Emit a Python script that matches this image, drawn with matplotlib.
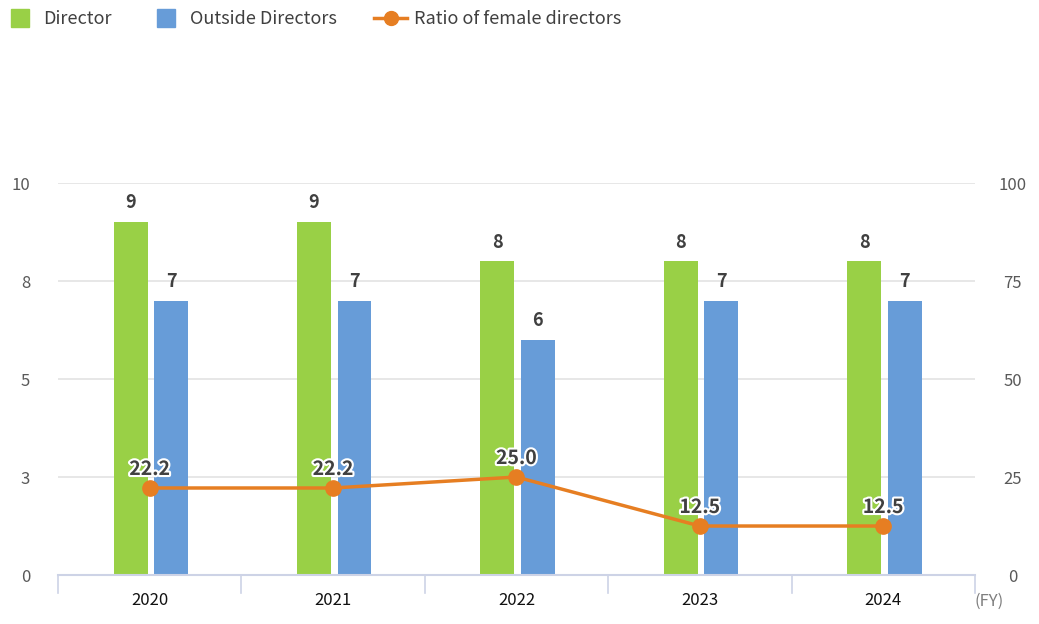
import matplotlib
matplotlib.use("Agg")
import matplotlib.pyplot as plt
import matplotlib.patheffects as pe
from matplotlib.lines import Line2D
import numpy as np

plt.rcParams['font.family'] = ['Noto Sans CJK JP', 'DejaVu Sans']

years = ["2020", "2021", "2022", "2023", "2024"]
directors = [9, 9, 8, 8, 8]
outside_directors = [7, 7, 6, 7, 7]
female_ratio = [22.2, 22.2, 25.0, 12.5, 12.5]

left_ticks = [0, 2.5, 5, 7.5, 10]
left_labels = ["0", "3", "5", "8", "10"]
right_ticks = [0, 25, 50, 75, 100]

green = "#99d046"
blue = "#679cd8"
orange = "#e67e22"
txt = "#404040"
grid_c = "#e3e3e3"

fig = plt.figure(figsize=(10.39, 6.24), dpi=100)
ax = fig.add_axes([0.0558, 0.0785, 0.8825, 0.6282])
ax2 = ax.twinx()

x = np.arange(len(years))
w = 0.185
ax.bar(x - 0.104, directors, w, color=green, zorder=2)
ax.bar(x + 0.117, outside_directors, w, color=blue, zorder=2)

for i in range(len(years)):
    ax.text(x[i] - 0.104, directors[i] + 0.25, str(directors[i]), ha="center", va="bottom",
            fontsize=13, color=txt, fontweight="bold")
    ax.text(x[i] + 0.117, outside_directors[i] + 0.25, str(outside_directors[i]), ha="center",
            va="bottom", fontsize=13, color=txt, fontweight="bold")

ax.set_xlim(-0.5, len(years) - 0.5)
ax.set_ylim(0, 10)
ax.set_yticks(left_ticks)
ax.set_yticklabels(left_labels)
ax.yaxis.grid(True, color=grid_c, linewidth=1.2, zorder=0)
ax.set_axisbelow(True)
ax.tick_params(axis="y", length=0, colors="#595959", labelsize=12, pad=20)
ax.set_xticks(x)
ax.set_xticklabels(years)
ax.tick_params(axis="x", length=0, labelsize=12, colors="#111111", pad=12)
for sp in ["top", "left", "right"]:
    ax.spines[sp].set_visible(False)
ax.spines["bottom"].set_color("#cdd3e6")
ax.spines["bottom"].set_linewidth(1.5)
for b in np.arange(-0.5, len(years), 1.0):
    ax.plot([b, b], [0, -0.45], color="#cdd3e6", linewidth=1.2, clip_on=False, zorder=1)
ax.text(len(years) - 0.42, -0.68, "(FY)", ha="center", va="center", fontsize=12, color="#7f7f7f")

ax2.plot(x, female_ratio, color=orange, linewidth=2.5, marker="o", markersize=11, zorder=3)
for i in range(len(years)):
    ax2.text(x[i], female_ratio[i] + 2.3, f"{female_ratio[i]:.1f}", ha="center", va="bottom",
             fontsize=14, color=txt, fontweight="bold",
             path_effects=[pe.withStroke(linewidth=3, foreground="white")])
ax2.set_ylim(0, 100)
ax2.set_yticks(right_ticks)
ax2.tick_params(axis="y", length=0, colors="#595959", labelsize=12, pad=27)
for sp in ["top", "left", "right", "bottom"]:
    ax2.spines[sp].set_visible(False)
for lbl in ax2.get_yticklabels():
    lbl.set_horizontalalignment("center")

handles = [
    Line2D([], [], marker="s", linestyle="none", color=green, markersize=13),
    Line2D([], [], marker="s", linestyle="none", color=blue, markersize=13),
    Line2D([], [], marker="o", color=orange, linewidth=2.5, markersize=10),
]
fig.legend(handles, ["Director", "Outside Directors", "Ratio of female directors"],
           loc="upper left", bbox_to_anchor=(-0.012, 1.01), ncol=3, frameon=False,
           fontsize=13, labelcolor="#404040", handlelength=1.8, columnspacing=2.1,
           handletextpad=0.4)

fig.savefig("out.png", dpi=100)
